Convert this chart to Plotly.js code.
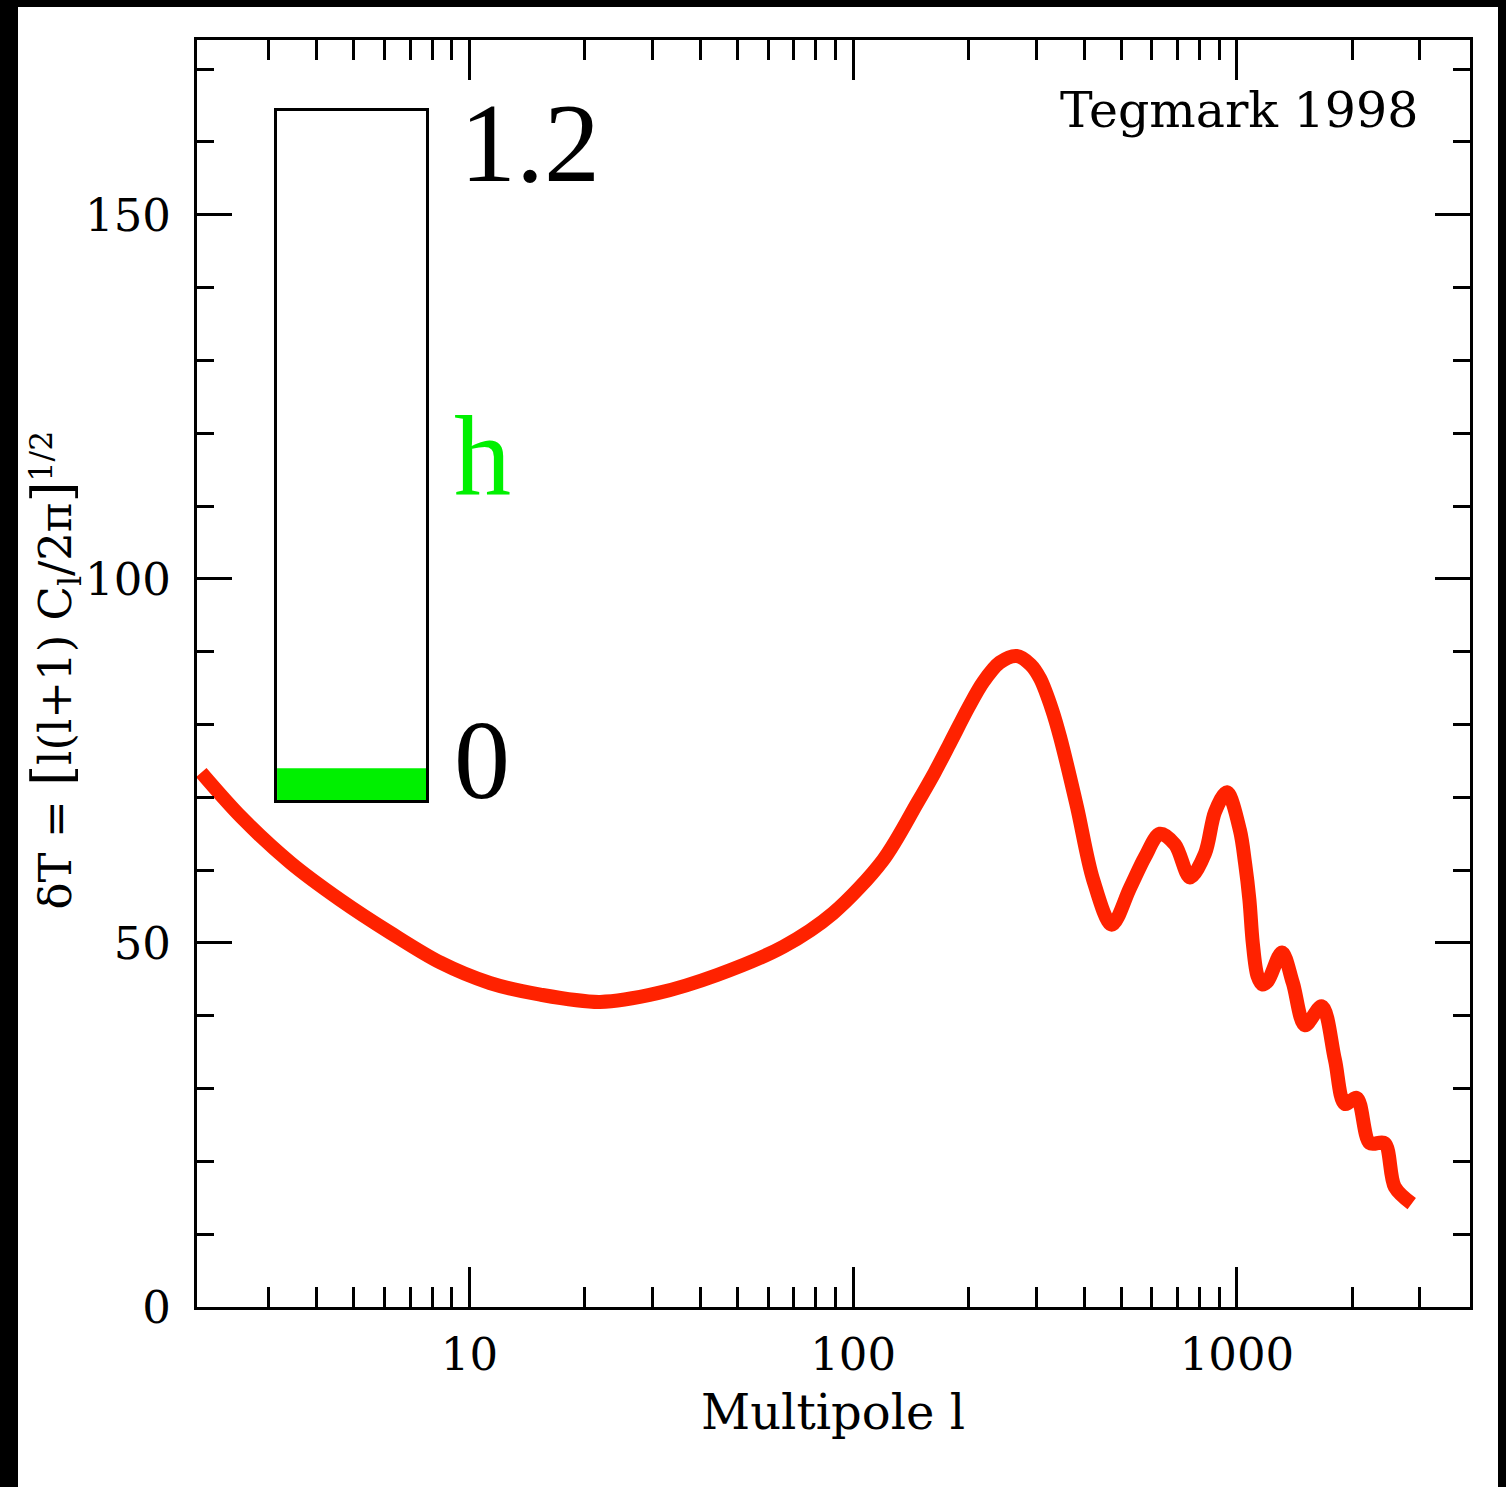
<!DOCTYPE html>
<html>
<head>
<meta charset="utf-8">
<script src="https://cdn.plot.ly/plotly-3.0.1.min.js"></script>
<style>
  html, body { margin: 0; padding: 0; background: #000; width: 1506px; height: 1487px; overflow: hidden; }
  #chart { position: absolute; left: 18px; top: 7px; width: 1480px; height: 1480px; background: #fff; }
</style>
</head>
<body>
<div id="chart"></div>
<script>
// Multipole l and dT values
const multipoles = [2, 2.54, 3.42, 4.61, 6.22, 8.4, 11.3, 15.3, 21.9, 30.9, 44.2, 65.8, 88.7, 119.7, 146.8, 163, 179, 200, 218, 241, 267, 290, 307, 330, 346, 383, 422, 472, 526, 576, 630, 690, 755, 826, 877, 942, 1018, 1050, 1078, 1100, 1131, 1165, 1205, 1310, 1399, 1504, 1665, 1800, 1910, 2054, 2220, 2427, 2578, 2855];
const deltaT = [73.4, 67.3, 61.0, 55.9, 51.4, 47.3, 44.5, 42.9, 41.9, 43.1, 45.6, 49.5, 54.1, 61.4, 69.2, 73.4, 77.5, 82.4, 85.8, 88.5, 89.4, 88.2, 86.3, 82.0, 78.3, 68.7, 58.7, 52.5, 57.5, 61.8, 65.0, 63.5, 59.0, 62.3, 68.0, 70.7, 65.5, 61.0, 55.9, 50.0, 45.5, 44.3, 44.8, 48.7, 44.5, 38.7, 41.3, 34.0, 27.9, 28.7, 22.5, 22.5, 16.5, 14.2];

// Gauge for the Hubble parameter h
const gaugeMin = 0;
const gaugeMax = 1.2;
const hValue = 0.055;
const gaugeLabels = ['1.2', 'h', '0'];

// Axis ticks
const xTickVals = [10, 100, 1000];
const xTickText = ['10', '100', '1000'];
const xMinorVals = [3, 4, 5, 6, 7, 8, 9, 20, 30, 40, 50, 60, 70, 80, 90, 200, 300, 400, 500, 600, 700, 800, 900, 2000, 3000];
const yTickVals = [0, 50, 100, 150];

const serif = 'DejaVu Serif, serif';
const big = 'Liberation Serif, serif';

const traces = [
  {
    x: multipoles, y: deltaT, type: 'scatter', mode: 'lines',
    line: { color: '#ff2200', width: 14, shape: 'spline', smoothing: 0.9 },
    xaxis: 'x', yaxis: 'y', hoverinfo: 'skip'
  },
  {
    x: [0], y: [hValue - gaugeMin], base: gaugeMin, type: 'bar', width: 1,
    marker: { color: '#00f000', line: { width: 0 } },
    xaxis: 'x2', yaxis: 'y2', hoverinfo: 'skip'
  }
];

const layout = {
  width: 1480, height: 1480,
  margin: { l: 179, r: 28, t: 33, b: 180 },
  paper_bgcolor: '#ffffff', plot_bgcolor: '#ffffff',
  showlegend: false,
  font: { family: serif, color: '#000', size: 45 },
  xaxis: {
    type: 'log', range: [Math.log10(1.95), Math.log10(4050)],
    showgrid: false, zeroline: false,
    showline: true, linecolor: '#000', linewidth: 3, mirror: 'ticks',
    ticks: 'inside', ticklen: 40, tickwidth: 3, tickcolor: '#000',
    tickmode: 'array', tickvals: xTickVals, ticktext: xTickText,
    tickfont: { family: serif, size: 45 }, ticklabelstandoff: 6,
    minor: { tickmode: 'array', tickvals: xMinorVals, ticks: 'inside', ticklen: 20, tickwidth: 3, tickcolor: '#000', showgrid: false }
  },
  yaxis: {
    range: [0, 174],
    showgrid: false, zeroline: false,
    showline: true, linecolor: '#000', linewidth: 3, mirror: 'ticks',
    ticks: 'inside', ticklen: 35, tickwidth: 3, tickcolor: '#000',
    tickmode: 'array', tickvals: yTickVals,
    tickfont: { family: serif, size: 45 }, ticklabelstandoff: 14,
    minor: { dtick: 10, ticks: 'inside', ticklen: 17, tickwidth: 3, tickcolor: '#000', showgrid: false }
  },
  xaxis2: {
    domain: [0.0629, 0.1799], anchor: 'y2', range: [-0.5, 0.5],
    showgrid: false, zeroline: false, showticklabels: false, ticks: '',
    showline: true, linecolor: '#000', linewidth: 3, mirror: true
  },
  yaxis2: {
    domain: [0.4002, 0.9440], anchor: 'x2', range: [gaugeMin, gaugeMax],
    showgrid: false, zeroline: false, showticklabels: false, ticks: '',
    showline: true, linecolor: '#000', linewidth: 3, mirror: true
  },
  annotations: [
    { text: 'Multipole l', xref: 'paper', yref: 'paper', x: 0.4996, y: -0.083, xanchor: 'center', yanchor: 'middle', showarrow: false, font: { family: serif, size: 48, color: '#000' } },
    { text: 'δT = <span style="font-size:54px">[</span>l(l+1) C<sub>l</sub>/2π<span style="font-size:54px">]</span><sup>1/2</sup>', xref: 'paper', yref: 'paper', x: -0.1125, y: 0.503, xanchor: 'center', yanchor: 'middle', textangle: -90, showarrow: false, font: { family: serif, size: 45, color: '#000' } },
    { text: 'Tegmark 1998', xref: 'paper', yref: 'paper', x: 0.9607, y: 0.944, xanchor: 'right', yanchor: 'middle', showarrow: false, font: { family: serif, size: 49, color: '#000' } },
    { text: gaugeLabels[0], xref: 'paper', yref: 'paper', x: 0.205, y: 0.919, xanchor: 'left', yanchor: 'middle', showarrow: false, font: { family: big, size: 112, color: '#000' } },
    { text: gaugeLabels[1], xref: 'paper', yref: 'paper', x: 0.200, y: 0.672, xanchor: 'left', yanchor: 'middle', showarrow: false, font: { family: big, size: 114, color: '#00f000' } },
    { text: gaugeLabels[2], xref: 'paper', yref: 'paper', x: 0.200, y: 0.432, xanchor: 'left', yanchor: 'middle', showarrow: false, font: { family: big, size: 112, color: '#000' } }
  ]
};

Plotly.newPlot('chart', traces, layout, { staticPlot: true, displayModeBar: false });
</script>
</body>
</html>
